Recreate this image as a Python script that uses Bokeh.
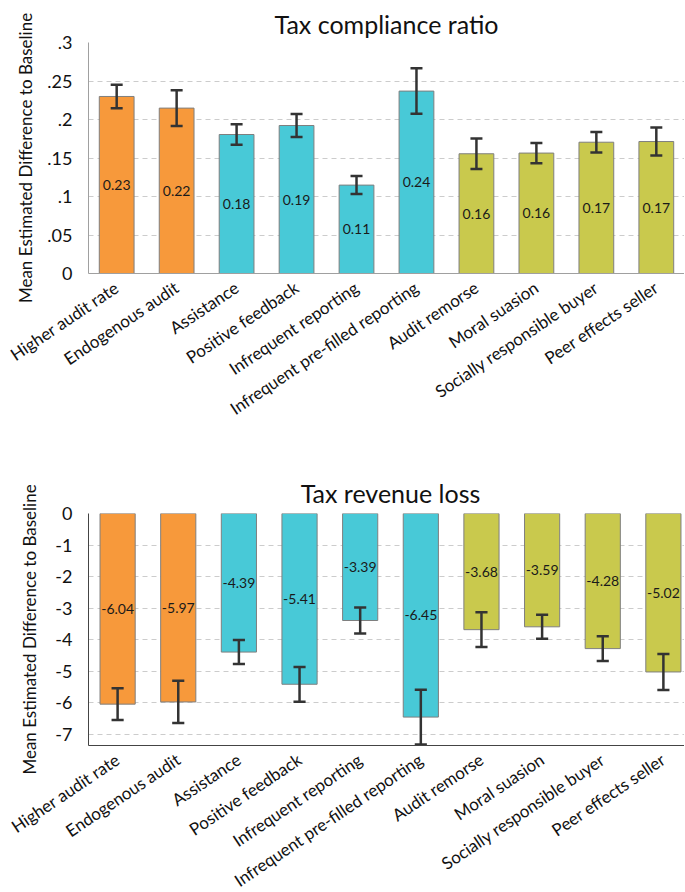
import math
from bokeh.plotting import figure
from bokeh.layouts import column
from bokeh.models import FixedTicker, ColumnDataSource, Range1d
from bokeh.core.properties import value
from bokeh.embed import file_html
from bokeh.resources import INLINE

categories = ["Higher audit rate", "Endogenous audit", "Assistance", "Positive feedback",
              "Infrequent reporting", "Infrequent pre-filled reporting", "Audit remorse",
              "Moral suasion", "Socially responsible buyer", "Peer effects seller"]
groups = ["audit", "audit", "service", "service", "service", "service",
          "moral", "moral", "moral", "moral"]
group_colors = {"audit": "#F7993B", "service": "#48C9D7", "moral": "#C9C94D"}

compliance = [0.2299, 0.2148, 0.1805, 0.1922, 0.1148, 0.2369, 0.1555, 0.1564, 0.1705, 0.1714]
compliance_err = [0.0153, 0.0232, 0.0132, 0.0149, 0.0117, 0.0295, 0.0197, 0.0132, 0.0132, 0.0182]
compliance_labels = ["0.23", "0.22", "0.18", "0.19", "0.11", "0.24", "0.16", "0.16", "0.17", "0.17"]

revenue = [-6.04, -5.97, -4.39, -5.41, -3.39, -6.45, -3.68, -3.59, -4.28, -5.02]
revenue_err = [0.50, 0.67, 0.38, 0.55, 0.41, 0.87, 0.55, 0.38, 0.39, 0.57]
revenue_labels = ["-6.04", "-5.97", "-4.39", "-5.41", "-3.39", "-6.45", "-3.68", "-3.59", "-4.28", "-5.02"]

top_ticks = [0, 0.05, 0.1, 0.15, 0.2, 0.25, 0.3]
top_tick_labels = ["0", ".05", ".1", ".15", ".2", ".25", ".3"]
bottom_ticks = [0, -1, -2, -3, -4, -5, -6, -7]
bottom_tick_labels = ["0", "-1", "-2", "-3", "-4", "-5", "-6", "-7"]

FONT = "Lato"


def make_chart(title, vals, errs, labels, yticks, yticklabels, yrange, xrange,
               frame_w, frame_h, b_left, b_top, b_bottom, axis_color, label_standoff,
               title_standoff):
    n = len(vals)
    xs = list(range(n))
    src = ColumnDataSource(dict(
        x=xs, top=vals, color=[group_colors[g] for g in groups],
        mid=[v / 2 for v in vals], lab=labels,
        lo=[v - e for v, e in zip(vals, errs)],
        hi=[v + e for v, e in zip(vals, errs)],
        cl=[x - 0.1 for x in xs], cr=[x + 0.1 for x in xs],
    ))
    p = figure(frame_width=frame_w, frame_height=frame_h, output_backend="svg",
               toolbar_location=None,
               x_range=Range1d(*xrange), y_range=Range1d(*yrange),
               min_border_left=b_left, min_border_right=0,
               min_border_top=b_top, min_border_bottom=b_bottom)
    p.title.text = title
    p.title.align = "center"
    p.title.text_font = FONT
    p.title.text_font_size = "25px"
    p.title.text_font_style = "normal"
    p.title.text_color = "#111111"
    p.title.standoff = title_standoff

    p.vbar(x="x", top="top", bottom=0, width=0.58, source=src,
           fill_color="color", line_color="#7f7f7f", line_width=1)
    p.segment(x0="x", y0="lo", x1="x", y1="hi", source=src, line_color="#333333", line_width=2.5)
    p.segment(x0="cl", y0="lo", x1="cr", y1="lo", source=src, line_color="#333333", line_width=2.5)
    p.segment(x0="cl", y0="hi", x1="cr", y1="hi", source=src, line_color="#333333", line_width=2.5)
    p.text(x="x", y="mid", text="lab", source=src, text_align="center", text_baseline="middle",
           text_font=value(FONT), text_font_size="14px", text_color="#1a1a1a")

    p.outline_line_color = None
    p.xgrid.grid_line_color = None
    p.ygrid.grid_line_color = "#cccccc"
    p.ygrid.grid_line_dash = "5 4"
    p.ygrid.grid_line_width = 1

    p.xaxis.ticker = FixedTicker(ticks=xs)
    p.xaxis.major_label_overrides = {i: c for i, c in enumerate(categories)}
    p.xaxis.major_label_orientation = math.radians(34)
    p.xaxis.major_label_text_font = FONT
    p.xaxis.major_label_text_font_size = "17px"
    p.xaxis.major_label_text_color = "#111111"
    p.xaxis.major_tick_line_color = None
    p.xaxis.minor_tick_line_color = None
    p.xaxis.axis_line_color = axis_color
    p.xaxis.major_label_standoff = 6

    p.yaxis.ticker = FixedTicker(ticks=yticks)
    p.yaxis.major_label_overrides = {t: l for t, l in zip(yticks, yticklabels)}
    p.yaxis.major_label_text_font = FONT
    p.yaxis.major_label_text_font_size = "18px"
    p.yaxis.major_label_text_color = "#111111"
    p.yaxis.major_tick_line_color = None
    p.yaxis.minor_tick_line_color = None
    p.yaxis.axis_line_color = axis_color
    p.yaxis.major_label_standoff = 10
    p.yaxis.axis_label = "Mean Estimated Difference to Baseline"
    p.yaxis.axis_label_text_font = FONT
    p.yaxis.axis_label_text_font_size = "17px"
    p.yaxis.axis_label_text_font_style = "normal"
    p.yaxis.axis_label_text_color = "#111111"
    p.yaxis.axis_label_standoff = label_standoff
    return p


p1 = make_chart("Tax compliance ratio", compliance, compliance_err, compliance_labels,
                top_ticks, top_tick_labels, (0, 0.3), (-0.47, 9.47),
                frame_w=596, frame_h=231, b_left=88, b_top=42, b_bottom=170,
                axis_color="#a0a0a0", label_standoff=8, title_standoff=8)
p2 = make_chart("Tax revenue loss", revenue, revenue_err, revenue_labels,
                bottom_ticks, bottom_tick_labels, (-7.35, 0), (-0.48, 9.48),
                frame_w=604, frame_h=232, b_left=80, b_top=70, b_bottom=145,
                axis_color="#444444", label_standoff=12, title_standoff=12)

layout = column(p1, p2, spacing=0)
open("out.html", "w").write(file_html(layout, INLINE))
